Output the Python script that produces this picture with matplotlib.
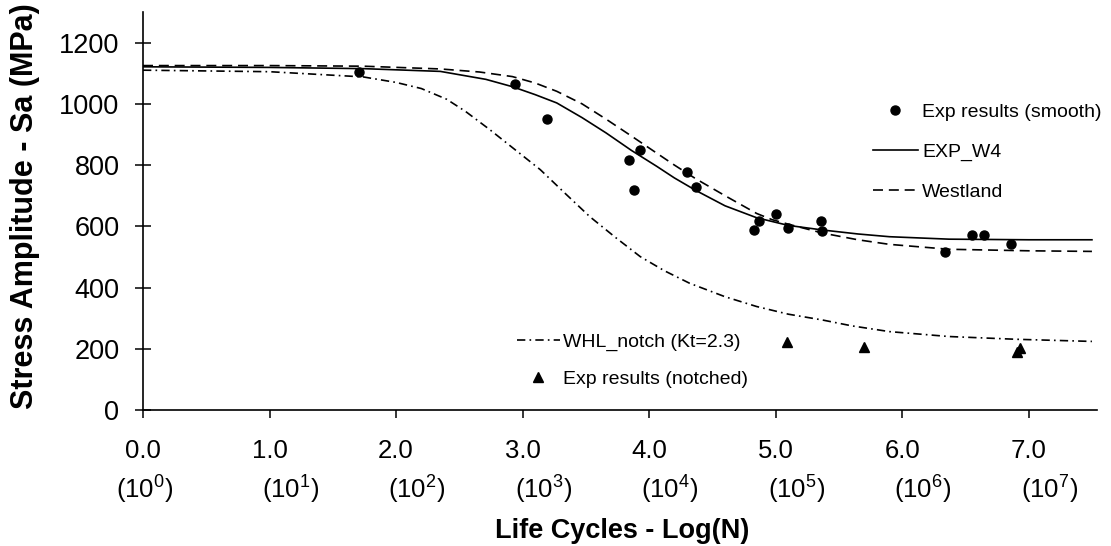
import matplotlib
matplotlib.use('Agg')
import matplotlib.pyplot as plt

plt.rcParams['font.family'] = ['Liberation Sans', 'DejaVu Sans']
plt.rcParams['mathtext.fontset'] = 'custom'
plt.rcParams['mathtext.rm'] = 'Liberation Sans'
plt.rcParams['mathtext.it'] = 'Liberation Sans:italic'
plt.rcParams['mathtext.bf'] = 'Liberation Sans:bold'

# ---------------- data ----------------
smooth_x = [1.71, 2.94, 3.19, 3.84, 3.93, 3.88, 4.30, 4.37, 4.83, 4.87, 5.00, 5.10,
            5.36, 5.37, 6.34, 6.55, 6.65, 6.86]
smooth_y = [1105, 1066, 951, 817, 850, 719, 778, 730, 589, 618, 640, 594,
            617, 585, 516, 572, 572, 543]

notched_x = [5.09, 5.70, 6.91, 6.93]
notched_y = [223, 207, 190, 203]

w4_x = [0.0, 1.0, 1.74, 2.35, 2.71, 2.92, 3.10, 3.27, 3.47, 3.66, 3.86, 4.06, 4.20,
        4.37, 4.60, 4.85, 5.10, 5.37, 5.65, 5.90, 6.37, 7.0, 7.5]
w4_y = [1121, 1119, 1115, 1106, 1080, 1056, 1030, 1003, 955, 905, 848, 796, 758,
        717, 667, 628, 603, 588, 575, 566, 558, 556, 556]

west_x = [0.0, 1.0, 1.74, 2.35, 2.66, 2.92, 3.10, 3.27, 3.47, 3.66, 3.86, 4.06, 4.20,
          4.37, 4.60, 4.85, 4.97, 5.10, 5.37, 5.65, 5.90, 6.37, 7.0, 7.5]
west_y = [1125, 1125, 1123, 1114, 1104, 1089, 1068, 1041, 1000, 950, 895, 839, 800,
          755, 700, 642, 622, 607, 578, 556, 541, 525, 520, 518]

whl_x = [0.0, 1.0, 1.74, 2.0, 2.2, 2.4, 2.55, 2.74, 3.14, 3.33, 3.53, 3.73, 3.93, 4.12,
         4.32, 4.60, 4.85, 5.10, 5.37, 5.60, 5.90, 6.37, 6.90, 7.5]
whl_y = [1110, 1105, 1088, 1070, 1050, 1015, 975, 916, 785, 710, 632, 565, 501, 455,
         414, 370, 338, 313, 294, 275, 256, 240, 231, 224]

xtick_vals = [0, 1, 2, 3, 4, 5, 6, 7]
xtick_line1 = ['0.0', '1.0', '2.0', '3.0', '4.0', '5.0', '6.0', '7.0']
xtick_exps = ['0', '1', '2', '3', '4', '5', '6', '7']
ytick_vals = [0, 200, 400, 600, 800, 1000, 1200]

# ---------------- figure ----------------
fig = plt.figure(figsize=(11.11, 5.46), dpi=100)
ax = fig.add_axes([143/1111, 136/546, 954/1111, 398/546])

lw = 1.2
l_w4, = ax.plot(w4_x, w4_y, color='black', lw=lw, linestyle='-')
l_west, = ax.plot(west_x, west_y, color='black', lw=lw, linestyle=(0, (6, 3.5)))
l_whl, = ax.plot(whl_x, whl_y, color='black', lw=lw, linestyle=(0, (5, 2.5, 1, 2.5)))
p_smooth, = ax.plot(smooth_x, smooth_y, 'o', color='black', markersize=6.5, linestyle='none')
p_notch, = ax.plot(notched_x, notched_y, '^', color='black', markersize=7, linestyle='none')

ax.set_xlim(0, 7.54)
ax.set_ylim(0, 1300)

for s in ['top', 'right']:
    ax.spines[s].set_visible(False)
for s in ['left', 'bottom']:
    ax.spines[s].set_linewidth(1.2)

ax.set_yticks(ytick_vals)
ax.set_yticklabels([str(v) for v in ytick_vals])
ax.tick_params(axis='y', direction='inout', length=12, width=1.1, labelsize=19.5, pad=11)

ax.set_xticks(xtick_vals)
ax.set_xticklabels(xtick_line1)
ax.tick_params(axis='x', direction='out', length=6, width=1.1, labelsize=18.5, pad=15)

offsets = [1.5] + [15] * 7
for xv, e, dx in zip(xtick_vals, xtick_exps, offsets):
    ax.annotate(r'$\mathregular{(10^{%s})}$' % e, xy=(xv, 0), xycoords=('data', 'axes fraction'),
                xytext=(dx, -63.5), textcoords='offset points', ha='center', va='baseline',
                fontsize=18.5, annotation_clip=False)

ax.set_xlabel('Life Cycles - Log(N)', fontsize=19.5, fontweight='bold', va='baseline')
ax.xaxis.set_label_coords((622-143)/954, (410-538)/398)
ax.set_ylabel('Stress Amplitude - Sa (MPa)', fontsize=22, fontweight='bold')
ax.yaxis.set_label_coords(-0.108, 0.513)

leg1 = ax.legend([p_smooth, l_w4, l_west], ['Exp results (smooth)', 'EXP_W4', 'Westland'],
                 loc='upper left', bbox_to_anchor=(0.765, 0.771), frameon=False, fontsize=14,
                 handlelength=2.3, handletextpad=0.25, labelspacing=1.15, borderpad=0,
                 borderaxespad=0)
ax.add_artist(leg1)
ax.legend([l_whl, p_notch], ['WHL_notch (Kt=2.3)', 'Exp results (notched)'],
          loc='upper left', bbox_to_anchor=(0.392, 0.1935), frameon=False, fontsize=14,
          handlelength=2.2, handletextpad=0.15, labelspacing=1.0, borderpad=0,
          borderaxespad=0)

fig.savefig('out.png', dpi=100)
